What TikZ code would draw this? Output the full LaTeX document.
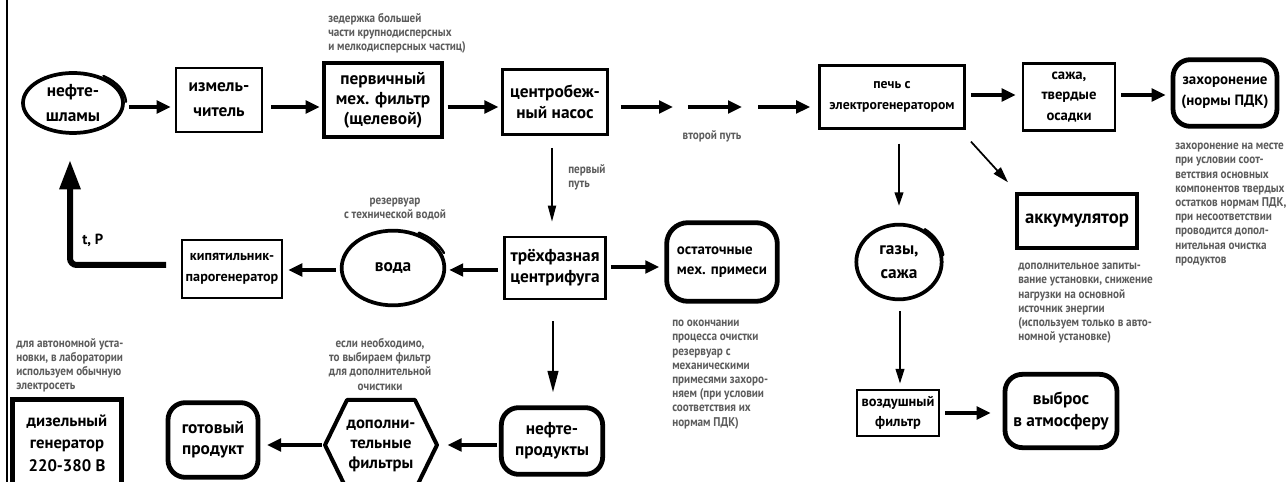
\documentclass[tikz,border=0pt]{standalone}
\usepackage{fontspec}
\setmainfont{PT Sans}
\newfontfamily\notefont{PT Sans}[FakeStretch=0.88]
\usetikzlibrary{arrows.meta,shapes.geometric,calc}
\tikzset{
  lbl/.style={font=\bfseries\fontsize{13}{16}\selectfont, align=center, inner sep=0pt},
  lblsm/.style={font=\bfseries\fontsize{10.6}{16}\selectfont},
  note/.style={font=\notefont\bfseries\fontsize{9.5}{10.65}\selectfont, text=black!64, inner sep=0pt},
  sqbox/.style={draw, line width=1.9pt, lbl},
  sqthick/.style={draw, line width=3pt, lbl},
  rbox/.style={draw, line width=3.6pt, rounded corners=13pt, lbl},
  oval/.style={draw, ellipse, line width=2.8pt, lbl},
  loop/.style={line width=1.8pt, line cap=round},
  arr/.style={line width=2.4pt, -{Triangle[length=10.5pt,width=9.5pt]}},
  darr/.style={line width=1.3pt, -{Triangle[length=12pt,width=6pt]}},
  bigarr/.style={line width=4.5pt, rounded corners=5pt, -{Triangle[length=22pt,width=15pt]}},
}
\begin{document}
\begin{tikzpicture}[x=0.75pt,y=0.75pt]
\useasboundingbox (0,0) rectangle (1286,482);
\clip (0,0) rectangle (1286,482);
\fill[white] (0,0) rectangle (1286,482);
% page edge
\draw[line width=1.6pt] (7,0) -- (7,482);

% --- upper row ---
\node[oval, minimum width=75pt, minimum height=45pt, font=\bfseries\fontsize{13}{19}\selectfont] (shl) at (73,379) {нефте-\\шламы};
\node[sqbox, minimum width=64.5pt, minimum height=48pt, font=\bfseries\fontsize{13}{19}\selectfont] (izm) at (219,382) {измель-\\читель};
\node[sqthick, minimum width=88pt, minimum height=56pt, font=\bfseries\fontsize{13}{15}\selectfont] (perv) at (383,382) {первичный\\мех. фильтр\\(щелевой)};
\node[sqbox, minimum width=79pt, minimum height=49pt] (cent) at (555,380) {центробеж-\\ный насос};
\node[sqbox, lblsm, minimum width=109pt, minimum height=47pt, font=\bfseries\fontsize{10.3}{16}\selectfont] (pech) at (892,385) {печь с\\электрогенератором};
\node[sqbox, minimum width=69pt, minimum height=50pt, font=\bfseries\fontsize{11}{15.4}\selectfont] (sazha) at (1069,385) {сажа,\\твердые\\осадки};
\node[rbox, minimum width=78pt, minimum height=50pt, font=\bfseries\fontsize{11.2}{15.5}\selectfont] (zah) at (1225,389) {захоронение\\(нормы ПДК)};

% --- middle row ---
\node[sqbox, lblsm, minimum width=75pt, minimum height=43.5pt] (kip) at (232,213) {кипятильник-\\парогенератор};
\node[oval, minimum width=77pt, minimum height=56pt] (voda) at (393,214) {вода};
\node[sqbox, minimum width=76pt, minimum height=46.5pt] (tri) at (555,214) {трёхфазная\\центрифуга};
\node[rbox, rounded corners=16pt, minimum width=83pt, minimum height=59pt, align=left, font=\bfseries\fontsize{11.2}{15}\selectfont] (ost) at (722,220) {остаточные\\мех. примеси};
\node[oval, minimum width=64pt, minimum height=56pt, font=\bfseries\fontsize{13}{18}\selectfont] (gaz) at (899,220) {газы,\\сажа};
\node[sqthick, minimum width=90pt, minimum height=40pt, font=\bfseries\fontsize{14}{16}\selectfont] (akk) at (1077,261) {аккумулятор};

% --- lower row ---
\node[sqthick, line width=3.75pt, minimum width=82pt, minimum height=64.5pt, font=\bfseries\fontsize{12.5}{17}\selectfont] (dies) at (67,39) {дизельный\\генератор\\220-380 В};
\node[rbox, minimum width=67.5pt, minimum height=56pt] (gotov) at (213,42) {готовый\\продукт};
\node[lbl, font=\bfseries\fontsize{12.5}{15}\selectfont] (hex) at (381,36) {дополни-\\тельные\\фильтры};
\coordinate (hexL) at (325,37);
\coordinate (hexR) at (437,37);
\draw[line width=3pt, line join=round] (hexL) -- (347,82) -- (415,82) -- (hexR) -- (415,-8) -- (347,-8) -- cycle;
\node[rbox, minimum width=76pt, minimum height=50pt] (nprod) at (552,41) {нефте-\\продукты};
\node[sqbox, lblsm, line width=1.6pt, minimum width=62pt, minimum height=35pt, font=\bfseries\fontsize{10.8}{15}\selectfont] (vozd) at (898,69) {воздушный\\фильтр};
\node[rbox, minimum width=84pt, minimum height=55pt, font=\bfseries\fontsize{13}{17}\selectfont] (vybr) at (1061,71) {выброс\\в атмосферу};

% hand-drawn overlapping strokes of the ovals
\draw[loop] ($(shl.center)+(55:39.75pt and 24.75pt)$) arc[start angle=55, end angle=2, x radius=39.75pt, y radius=24.75pt];
\draw[loop] ($(voda.center)+(62:41.25pt and 30pt)$) arc[start angle=62, end angle=22, x radius=41.25pt, y radius=30pt];
\draw[loop] ($(gaz.center)+(55:33.75pt and 30pt)$) arc[start angle=55, end angle=10, x radius=33.75pt, y radius=30pt];

% --- connectors, upper row ---
\draw[arr, shorten <=3pt, shorten >=3pt] (shl.east |- 0,375) -- (izm.west |- 0,375);
\draw[arr, shorten <=6pt, shorten >=2pt] (izm.east |- 0,375) -- (perv.west |- 0,375);
\draw[arr, shorten <=3pt, shorten >=2pt] (perv.east |- 0,375) -- (cent.west |- 0,375);
\coordinate (g1) at (680.5,375);
\coordinate (g2) at (750,375);
\draw[arr, shorten <=9pt, shorten >=5.6pt] (cent.east |- g1) -- (g1);
\draw[arr, shorten <=5.6pt, shorten >=6pt] (g1) -- (g2);
\draw[arr, shorten <=6pt, shorten >=6pt] (g2) -- (pech.west |- g2);
\draw[arr, shorten <=3.75pt, shorten >=4.5pt] (pech.east |- 0,387) -- (sazha.west |- 0,387);
\draw[arr, shorten <=3.75pt, shorten >=3.75pt] (sazha.east |- 0,387) -- (zah.west |- 0,387);

% --- first path down through the centrifuge ---
\draw[darr, shorten <=9pt, shorten >=10.5pt] (cent.south -| 552,0) -- (tri.north -| 552,0);
\draw[arr, shorten <=3.75pt, shorten >=2.25pt] (tri.west |- 0,212) -- (voda.east |- 0,212);
\draw[arr, shorten <=3pt, shorten >=3.75pt] (voda.west |- 0,212) -- (kip.east |- 0,212);
\coordinate (tpTip) at (70,322);
\draw[bigarr, shorten <=11pt] (kip.west |- 0,217) -| (tpTip);
\draw[arr, shorten <=3pt, shorten >=3.75pt] (tri.east |- 0,215) -- (ost.west |- 0,215);
\draw[darr, line width=1.6pt, -{Triangle[length=16pt,width=8pt]}, shorten <=15.75pt, shorten >=9.75pt] (tri.south -| 553,0) -- (nprod.north -| 553,0);
\draw[arr, shorten <=1.5pt, shorten >=8pt] (nprod.west |- 0,37) -- (hexR);
\draw[arr, shorten <=2.25pt, shorten >=5pt] (hexL) -- (gotov.east |- 0,37);

% --- furnace branches ---
\draw[darr, -{Triangle[length=10pt,width=6.5pt]}, shorten <=10.5pt, shorten >=12.75pt] (gaz.north |- pech.south) -- (gaz.north);
\draw[darr, -{Triangle[length=12pt,width=7pt]}] ($(pech.south east)+(5,-12)$) -- ($(akk.north west)+(-7,10)$);
\draw[darr, -{Triangle[length=11pt,width=6.5pt]}, shorten <=7.5pt, shorten >=3.75pt] (gaz.south -| 900,0) -- (vozd.north -| 900,0);
\draw[arr, shorten <=3.75pt, shorten >=9pt] (vozd.east |- 0,69) -- (vybr.west |- 0,69);

% --- notes ---
\node[note, anchor=north west, align=left] (n1) at (328,469) {зедержка большей\\части крупнодисперсных\\и мелкодисперсных частиц)};
\node[note] (n2) at (712,346) {второй путь};
\node[note, anchor=north west, align=left] (n3) at (568,318) {первый\\путь};
\node[note, anchor=north, align=center] (n4) at (395,284) {резервуар\\с технической водой};
\node[note, anchor=north west, align=left] (n5) at (1175,339) {захоронение на месте\\при условии соот-\\ветствия основных\\компонентов твердых\\остатков нормам ПДК,\\при несоответствии\\проводится допол-\\нительная очистка\\продуктов};
\node[note, anchor=north west, align=left] (n6) at (1018,219) {дополнительное запиты-\\вание установки, снижение\\нагрузки на основной\\источник энергии\\(используем только в авто-\\номной установке)};
\node[note, anchor=north west, align=left] (n7) at (672,162) {по окончании\\процесса очистки\\резервуар с\\механическими\\примесями захоро-\\няем (при условии\\соответствия их\\нормам ПДК)};
\node[note, anchor=north, align=center] (n8) at (380,144) {если необходимо,\\то выбираем фильтр\\для дополнительной\\очистики};
\node[note, anchor=north west, align=left] (n9) at (16,144) {для автономной уста-\\новки, в лаборатории\\используем обычную\\электросеть};
\node[font=\bfseries\fontsize{11}{13}\selectfont, anchor=west, inner sep=0pt] (tp) at (82,242) {t, P};
\end{tikzpicture}
\end{document}
